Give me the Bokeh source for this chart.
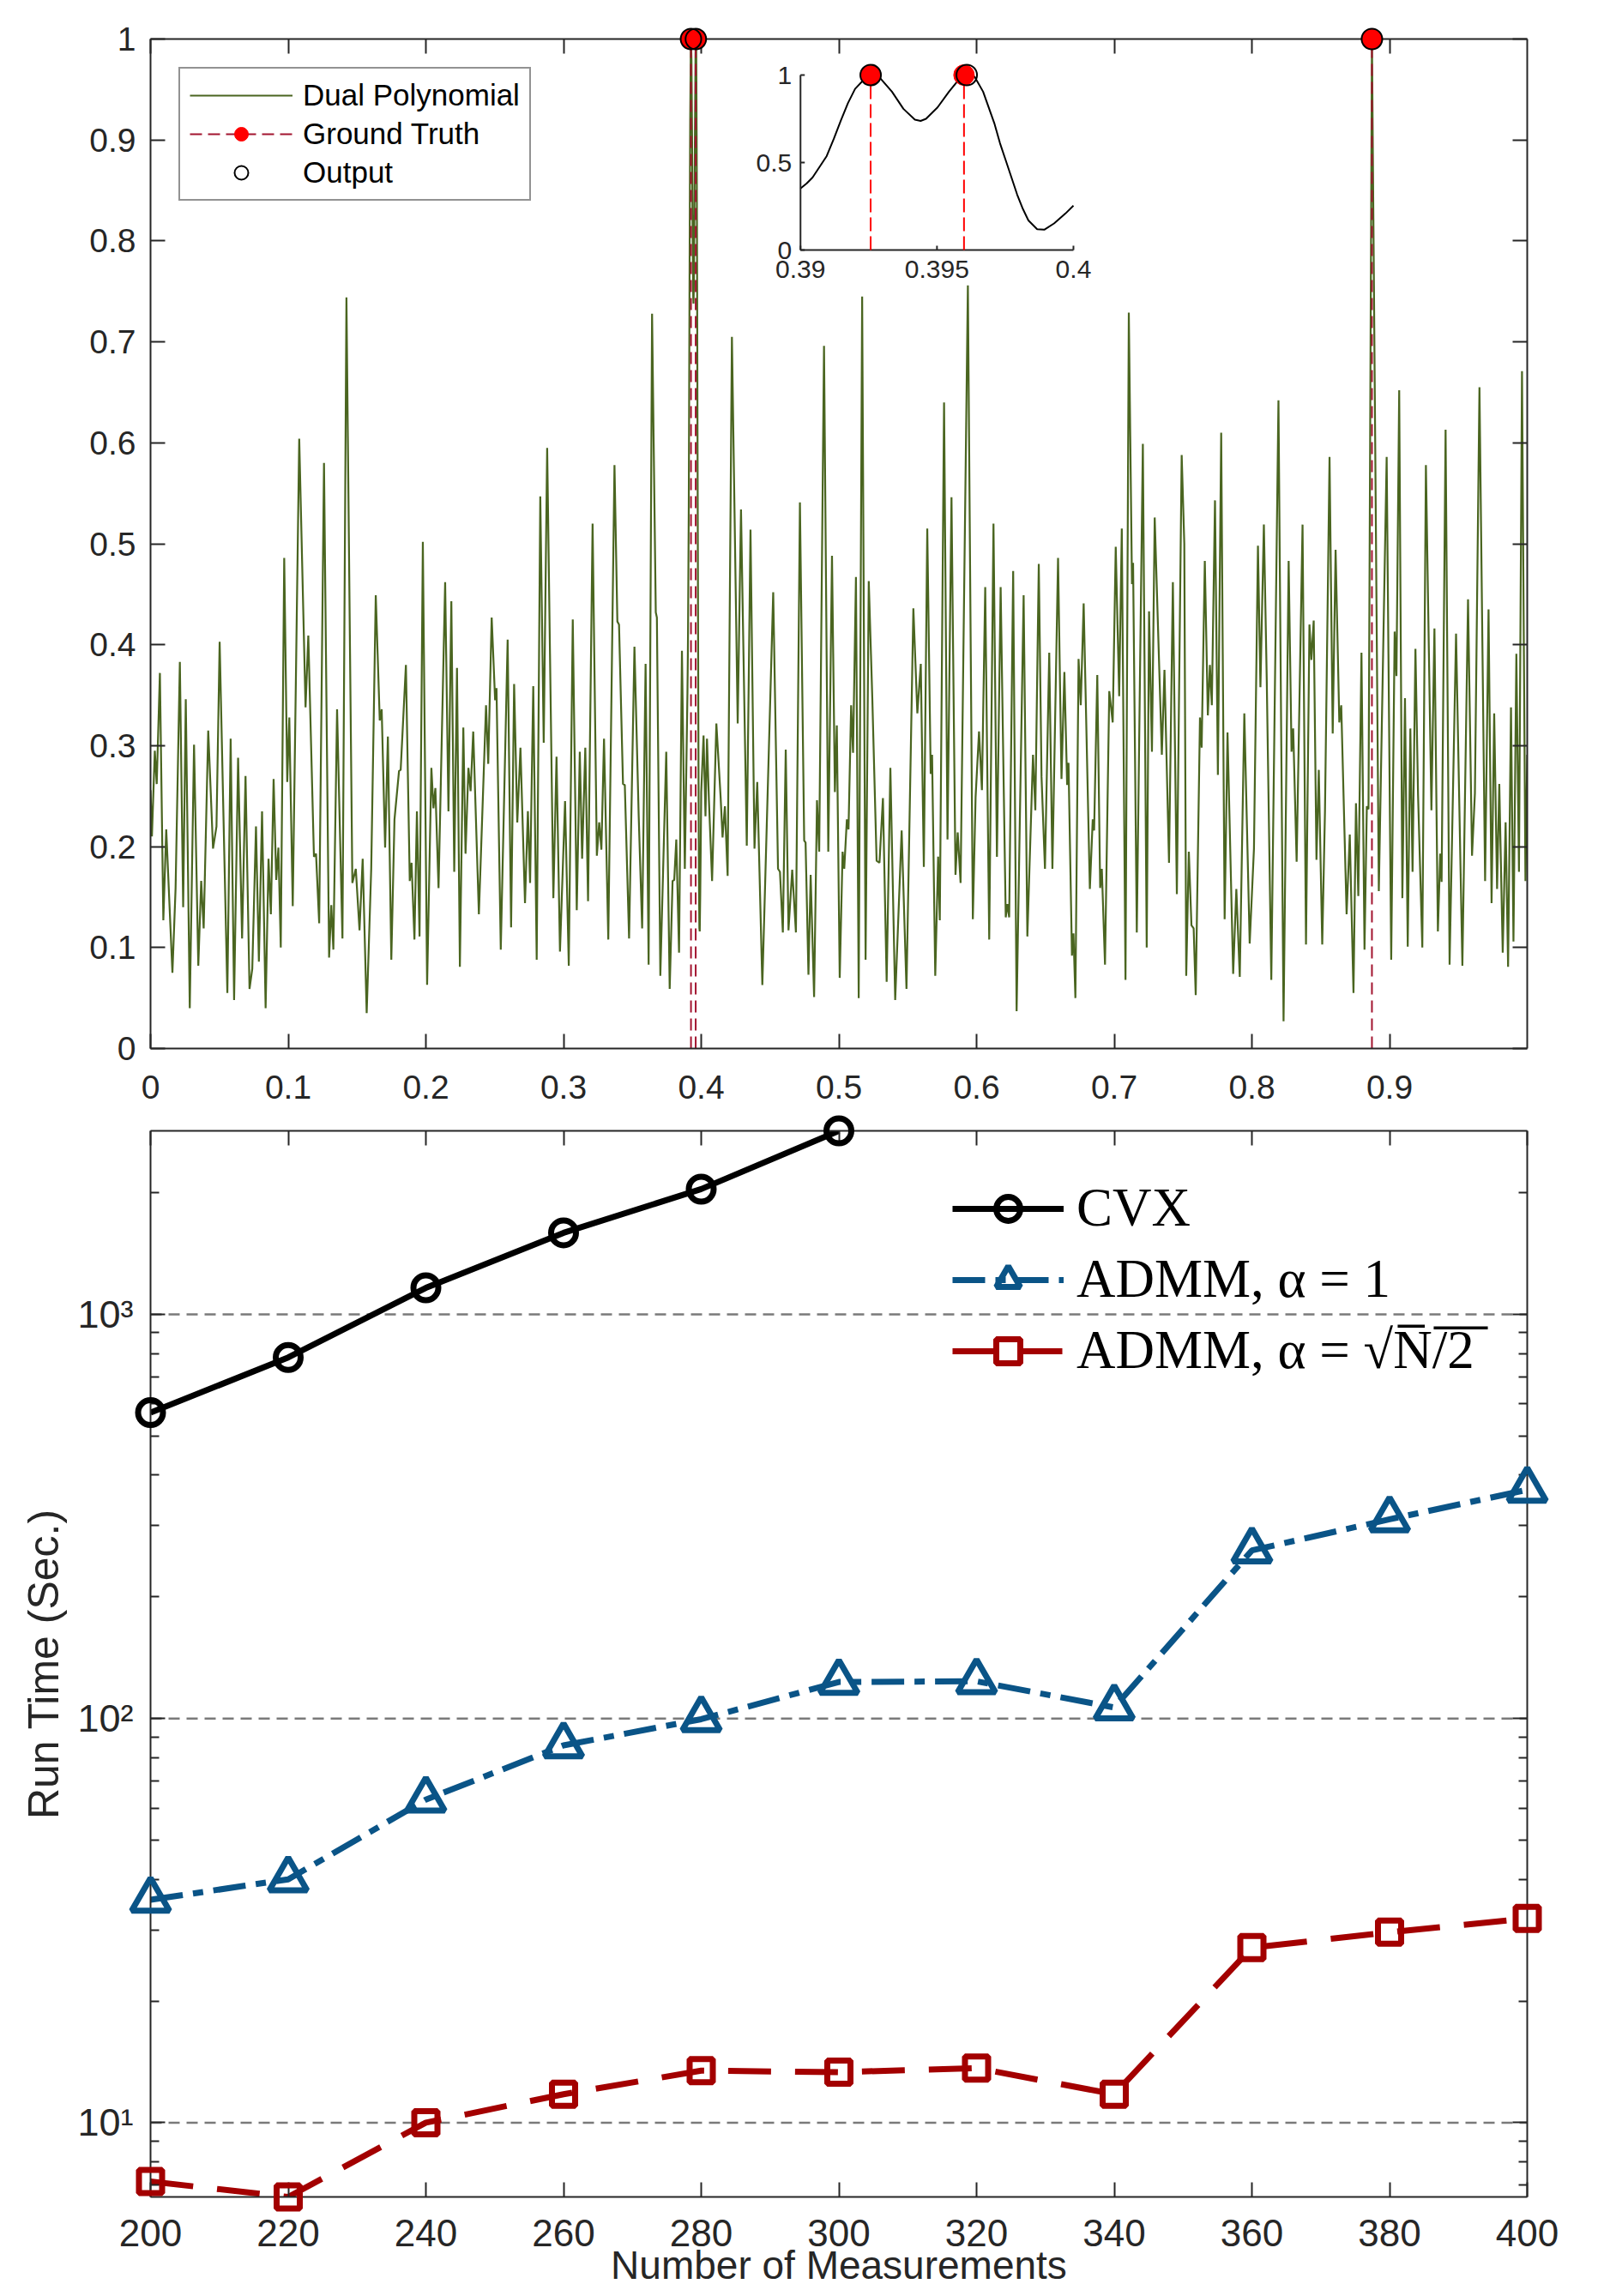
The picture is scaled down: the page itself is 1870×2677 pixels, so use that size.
import math
from bokeh.plotting import figure
from bokeh.layouts import column
from bokeh.models import (Range1d, LinearAxis, LogAxis, FixedTicker, Legend,
                          LegendItem, CustomJSTickFormatter)
from bokeh.core.properties import value
from bokeh.embed import file_html
from bokeh.resources import INLINE

# ----------------------------------------------------------------- top panel data
# dual polynomial |q(f)| (peaks / valleys), in four pieces
dual_seg1 = [(0.0000,0.256),(0.0010,0.210),(0.0031,0.295),(0.0045,0.262),(0.0068,0.372),(0.0093,0.127),
    (0.0114,0.217),(0.0159,0.075),(0.0182,0.159),(0.0213,0.383),(0.0237,0.140),(0.0256,0.346),(0.0285,0.040),
    (0.0316,0.301),(0.0347,0.082),(0.0368,0.166),(0.0386,0.119),(0.0419,0.315),(0.0454,0.198),(0.0479,0.220),
    (0.0502,0.403),(0.0558,0.055),(0.0582,0.307),(0.0607,0.048),(0.0636,0.288),(0.0665,0.109),(0.0690,0.270),
    (0.0719,0.059),(0.0739,0.079),(0.0766,0.220),(0.0787,0.086),(0.0810,0.235),(0.0836,0.040),(0.0857,0.188),
    (0.0874,0.133),(0.0894,0.267),(0.0913,0.167),(0.0929,0.199),(0.0946,0.100),(0.0971,0.486),(0.0993,0.264),
    (0.1008,0.328),(0.1033,0.141),(0.1080,0.604),(0.1126,0.338),(0.1146,0.409),(0.1187,0.190),(0.1202,0.193),
    (0.1225,0.124),(0.1260,0.580),(0.1297,0.090),(0.1313,0.142),(0.1328,0.098),(0.1355,0.336),(0.1394,0.109),
    (0.1423,0.744),(0.1466,0.164),(0.1491,0.178),(0.1518,0.117),(0.1541,0.188),(0.1570,0.035),(0.1603,0.178),
    (0.1636,0.449),(0.1665,0.325),(0.1679,0.336),(0.1704,0.199),(0.1724,0.309),(0.1749,0.088),(0.1772,0.227),
    (0.1805,0.275),(0.1817,0.276),(0.1855,0.380),(0.1883,0.166),(0.1896,0.184),(0.1917,0.108),(0.1935,0.235),
    (0.1954,0.111),(0.1978,0.502),(0.2009,0.063),(0.2040,0.278),(0.2055,0.238),(0.2069,0.258),(0.2092,0.159),
    (0.2140,0.462),(0.2164,0.235),(0.2185,0.443),(0.2206,0.175),(0.2226,0.377),(0.2247,0.081),(0.2272,0.318),
    (0.2288,0.193),(0.2309,0.278),(0.2325,0.255),(0.2344,0.314),(0.2385,0.133),(0.2437,0.340),(0.2453,0.282),
    (0.2478,0.427),(0.2503,0.345),(0.2513,0.357),(0.2544,0.098),(0.2594,0.405),(0.2619,0.120),(0.2641,0.361),
    (0.2664,0.224),(0.2687,0.298),(0.2720,0.144),(0.2741,0.235),(0.2757,0.164),(0.2780,0.359),(0.2805,0.088),
    (0.2831,0.547),(0.2856,0.303),(0.2881,0.595),(0.2926,0.149),(0.2949,0.289),(0.2974,0.096),(0.3011,0.245),
    (0.3038,0.082),(0.3067,0.425),(0.3096,0.137),(0.3118,0.294),(0.3135,0.188),(0.3158,0.298),(0.3178,0.146),
    (0.3211,0.520),(0.3242,0.191),(0.3259,0.224),(0.3275,0.197),(0.3294,0.307),(0.3325,0.108),(0.3370,0.578),
    (0.3391,0.423),(0.3403,0.420),(0.3432,0.262),(0.3445,0.261),(0.3476,0.109),(0.3515,0.398),(0.3546,0.230),
    (0.3571,0.119),(0.3596,0.381),(0.3618,0.083),(0.3643,0.728),(0.3670,0.432),(0.3678,0.427),(0.3703,0.072),
    (0.3746,0.294),(0.3771,0.059),(0.3792,0.166),(0.3804,0.167),(0.3819,0.207),(0.3839,0.095),(0.3860,0.394),
    (0.3881,0.178)]
# the zoomed region 0.39 - 0.40 (also shown in the inset)
zoom_seg = [(0.39000,0.352),(0.39023,0.381),(0.39044,0.414),(0.39096,0.537),(0.39122,0.635),(0.39148,0.741),
    (0.39174,0.840),(0.39200,0.921),(0.39242,0.990),(0.39257,1.000),(0.39294,0.979),(0.39335,0.905),
    (0.39377,0.807),(0.39419,0.745),(0.39440,0.738),(0.39460,0.750),(0.39502,0.815),(0.39544,0.905),
    (0.39585,0.984),(0.39606,1.000),(0.39638,0.990),(0.39669,0.905),(0.39710,0.725),(0.39731,0.610),
    (0.39752,0.512),(0.39773,0.414),(0.39794,0.316),(0.39815,0.234),(0.39835,0.169),(0.39867,0.119),
    (0.39893,0.116),(0.39929,0.152),(0.39971,0.209),(0.40000,0.254)]
dual_seg2 = [(0.4017,0.310),(0.4031,0.230),(0.4042,0.307),(0.4056,0.246),(0.4079,0.166),(0.4110,0.322),
    (0.4141,0.249),(0.4155,0.209),(0.4172,0.240),(0.4192,0.171),(0.4223,0.705),(0.4265,0.322),(0.4289,0.534),
    (0.4331,0.201),(0.4358,0.514),(0.4387,0.198),(0.4407,0.264),(0.4444,0.063),(0.4523,0.452),(0.4558,0.178),
    (0.4572,0.175),(0.4593,0.115),(0.4614,0.296),(0.4634,0.117),(0.4661,0.177),(0.4688,0.115),(0.4717,0.541),
    (0.4748,0.206),(0.4758,0.204),(0.4779,0.073),(0.4795,0.172),(0.4820,0.051),(0.4841,0.246),(0.4857,0.195),
    (0.4892,0.696),(0.4923,0.195),(0.4950,0.488),(0.4971,0.254),(0.4985,0.320),(0.5006,0.070),(0.5027,0.195),
    (0.5039,0.178),(0.5058,0.227),(0.5070,0.217),(0.5089,0.340),(0.5103,0.293),(0.5124,0.467),(0.5144,0.050),
    (0.5169,0.745),(0.5194,0.088),(0.5217,0.463),(0.5243,0.346),(0.5274,0.186),(0.5295,0.184),(0.5320,0.248),
    (0.5347,0.066),(0.5374,0.278),(0.5409,0.048),(0.5456,0.216),(0.5491,0.059),(0.5541,0.436),(0.5570,0.332),
    (0.5595,0.381),(0.5617,0.180),(0.5642,0.515),(0.5667,0.272),(0.5677,0.291),(0.5700,0.072),(0.5721,0.190),
    (0.5733,0.127),(0.5764,0.640),(0.5789,0.207),(0.5818,0.546),(0.5847,0.172),(0.5863,0.214),(0.5884,0.164),
    (0.5937,0.756),(0.5973,0.128),(0.5993,0.249),(0.6018,0.314),(0.6039,0.256),(0.6063,0.457),(0.6092,0.108),
    (0.6123,0.520),(0.6148,0.190),(0.6175,0.457),(0.6212,0.130),(0.6224,0.143),(0.6237,0.130),(0.6266,0.473),
    (0.6291,0.037),(0.6342,0.449),(0.6369,0.111),(0.6410,0.291),(0.6427,0.236),(0.6452,0.480),(0.6472,0.269),
    (0.6497,0.178),(0.6528,0.392),(0.6551,0.178),(0.6592,0.486),(0.6617,0.267),(0.6638,0.373),(0.6658,0.261),
    (0.6668,0.283),(0.6693,0.092),(0.6704,0.114),(0.6718,0.050),(0.6741,0.386),(0.6757,0.340),(0.6778,0.441),
    (0.6823,0.158),(0.6844,0.227),(0.6854,0.216),(0.6877,0.370),(0.6898,0.159),(0.6910,0.178),(0.6933,0.083),
    (0.6964,0.354),(0.6989,0.323),(0.7011,0.497),(0.7036,0.349),(0.7055,0.515),(0.7082,0.068),(0.7106,0.729),
    (0.7129,0.460),(0.7137,0.481),(0.7164,0.115),(0.7208,0.599),(0.7236,0.100),(0.7253,0.433),(0.7274,0.294),
    (0.7294,0.526),(0.7346,0.291),(0.7365,0.375),(0.7398,0.184),(0.7426,0.462),(0.7455,0.153),(0.7490,0.588),
    (0.7509,0.500)]
dual_seg3 = [(0.7523,0.072),(0.7542,0.195),(0.7561,0.122),(0.7577,0.119),(0.7592,0.053),(0.7623,0.328),
    (0.7635,0.298),(0.7658,0.483),(0.7680,0.330),(0.7695,0.380),(0.7709,0.340),(0.7732,0.543),(0.7753,0.271),
    (0.7777,0.610),(0.7802,0.128),(0.7823,0.313),(0.7864,0.074),(0.7887,0.158),(0.7912,0.071),(0.7945,0.332),
    (0.7984,0.104),(0.8015,0.198),(0.8044,0.498),(0.8062,0.358),(0.8087,0.519),(0.8108,0.365),(0.8141,0.068),
    (0.8193,0.642),(0.8230,0.027),(0.8267,0.483),(0.8288,0.294),(0.8300,0.317),(0.8325,0.185),(0.8368,0.519),
    (0.8393,0.103),(0.8418,0.420),(0.8432,0.385),(0.8449,0.424),(0.8469,0.187),(0.8486,0.276),(0.8511,0.103),
    (0.8531,0.236),(0.8564,0.586),(0.8587,0.312),(0.8608,0.494),(0.8635,0.323),(0.8649,0.340),(0.8688,0.133),
    (0.8711,0.212),(0.8738,0.055),(0.8756,0.243),(0.8773,0.151),(0.8796,0.392),(0.8818,0.098),(0.8835,0.240),
    (0.8847,0.237),(0.8872,1.000),(0.8922,0.156),(0.8979,0.586),(0.9012,0.088),(0.9037,0.413),(0.9050,0.369),
    (0.9070,0.652),(0.9093,0.149),(0.9112,0.347),(0.9132,0.101),(0.9151,0.317),(0.9167,0.175),(0.9188,0.396),
    (0.9207,0.251),(0.9238,0.100),(0.9264,0.578),(0.9304,0.236),(0.9326,0.416),(0.9351,0.116),(0.9368,0.193),
    (0.9378,0.165),(0.9407,0.613),(0.9436,0.083),(0.9483,0.411),(0.9529,0.082),(0.9570,0.445),(0.9599,0.191),
    (0.9620,0.253),(0.9653,0.655),(0.9694,0.166),(0.9719,0.435),(0.9741,0.144),(0.9760,0.332),(0.9781,0.158),
    (0.9797,0.262),(0.9822,0.095),(0.9843,0.224),(0.9861,0.081),(0.9882,0.338),(0.9900,0.106),(0.9921,0.391),
    (0.9940,0.175),(0.9962,0.671),(0.9987,0.166),(1.0000,0.291)]

truth_x = [0.39257, 0.39599, 0.8872]
truth_y = [1.0, 1.0, 1.0]
output_x = [0.39257, 0.39609, 0.8872]
output_y = [1.0, 1.0, 1.0]

top_xticks = [0, 0.1, 0.2, 0.3, 0.4, 0.5, 0.6, 0.7, 0.8, 0.9]
top_xlabels = ["0", "0.1", "0.2", "0.3", "0.4", "0.5", "0.6", "0.7", "0.8", "0.9"]
top_yticks = [0, 0.1, 0.2, 0.3, 0.4, 0.5, 0.6, 0.7, 0.8, 0.9, 1]
top_ylabels = ["0", "0.1", "0.2", "0.3", "0.4", "0.5", "0.6", "0.7", "0.8", "0.9", "1"]
inset_xlim = (0.39, 0.40)
inset_xticks = [0.39, 0.395, 0.40]
inset_xlabels = ["0.39", "0.395", "0.4"]
inset_yticks = [0, 0.5, 1]
inset_ylabels = ["0", "0.5", "1"]

# ----------------------------------------------------------------- bottom panel data
meas = [200, 220, 240, 260, 280, 300, 320, 340, 360, 380, 400]
cvx_n = [200, 220, 240, 260, 280, 300]
cvx_t = [571, 782, 1163, 1591, 2041, 2844]
admm1_t = [35.6, 40.0, 63.0, 85.8, 99.6, 123.1, 123.6, 106.5, 260.5, 311.0, 368.0]
admm2_t = [7.15, 6.55, 10.0, 11.76, 13.45, 13.33, 13.65, 11.76, 27.1, 29.6, 32.0]
decades = [10, 100, 1000]
decade_labels = ["10\u00b9", "10\u00b2", "10\u00b3"]
series_names = ["CVX", "ADMM, \u03b1 = 1", "ADMM, \u03b1 = \u221aN\u0305/\u03052\u0305"]

# ----------------------------------------------------------------- styles
AX = "#262626"
SANS = "Liberation Sans"
SERIF = "Liberation Serif"
GREEN = "#4a6520"
DARKRED = "#a2142f"
BLUE = "#0a5487"
RED = "#a30000"


def label_map(ticks, labels):
    d = {}
    for t, l in zip(ticks, labels):
        d[t] = l
        d[str(t)] = l
    return d


def style_axis(ax, ticker, labels=None, size="39px", tick_in=17, minor_in=0):
    ax.ticker = ticker
    ax.axis_line_color = AX
    ax.axis_line_width = 2
    ax.major_tick_line_color = AX
    ax.major_tick_line_width = 2
    ax.minor_tick_line_color = AX
    ax.minor_tick_line_width = 2
    ax.major_tick_in = tick_in
    ax.major_tick_out = 0
    ax.minor_tick_in = minor_in
    ax.minor_tick_out = 0
    if labels is None:
        ax.formatter = CustomJSTickFormatter(code="return ''")
        ax.major_label_text_font_size = "0px"
        ax.major_label_standoff = 0
    else:
        ax.major_label_overrides = label_map(ticker.ticks, labels)
        ax.major_label_text_font_size = size
    ax.major_label_text_font = SANS
    ax.major_label_text_color = AX


# ================================================================= top figure
F1_W, F1_H = 1854, 1300
F1_L, F1_T, F1_FW, F1_FH = 166, 45, 1614, 1177

p1 = figure(width=F1_W, height=F1_H, x_range=Range1d(0, 1), y_range=Range1d(0, 1),
            output_backend="svg", toolbar_location=None,
            min_border_left=F1_L, min_border_right=F1_W - F1_L - F1_FW,
            min_border_top=F1_T, min_border_bottom=F1_H - F1_T - F1_FH)
p1.grid.visible = False
p1.outline_line_color = None
p1.background_fill_color = "white"
p1.border_fill_color = "white"

xb = p1.xaxis[0]
style_axis(xb, FixedTicker(ticks=top_xticks), top_xlabels)
xb.major_label_standoff = 31
yl = p1.yaxis[0]
style_axis(yl, FixedTicker(ticks=top_yticks), top_ylabels)
yl.major_label_standoff = 17
xt = LinearAxis()
style_axis(xt, FixedTicker(ticks=top_xticks))
p1.add_layout(xt, "above")
yr = LinearAxis()
style_axis(yr, FixedTicker(ticks=top_yticks))
p1.add_layout(yr, "right")

dual_pts = dual_seg1 + zoom_seg + dual_seg2 + dual_seg3
dual_x = [p[0] for p in dual_pts]
dual_y = [p[1] for p in dual_pts]

line_r = p1.line(dual_x, dual_y, line_color=GREEN, line_width=2.2)
stem_r = p1.segment(x0=truth_x, y0=[0] * len(truth_x), x1=truth_x, y1=truth_y,
                    line_color=DARKRED, line_width=2, line_dash="14 7")
truth_r = p1.scatter(truth_x, truth_y, marker="circle", size=24, fill_color="#ff0000",
                     line_color="#ff0000", level="overlay")
out_r = p1.scatter(output_x, output_y, marker="circle", size=24, fill_color=None, line_color="black",
                   line_width=2, level="overlay")

# ---- inset (drawn through its own ranges that map 0.39-0.40 x 0-1 into a small box)
INS_L, INS_R, INS_T, INS_B = 762, 1082, 42, 246      # inset box inside the frame, px
ix0, ix1 = inset_xlim
sx = (ix1 - ix0) / (INS_R - INS_L)
sy = 1.0 / (INS_B - INS_T)
p1.extra_x_ranges = {"ix": Range1d(ix0 - INS_L * sx, ix1 + (F1_FW - INS_R) * sx)}
p1.extra_y_ranges = {"iy": Range1d(0 - (F1_FH - INS_B) * sy, 1 + INS_T * sy)}
kw = dict(x_range_name="ix", y_range_name="iy")

zoom_x = [p[0] for p in zoom_seg]
zoom_y = [p[1] for p in zoom_seg]
p1.line(zoom_x, zoom_y, line_color="black", line_width=2, **kw)
p1.segment(x0=[ix0, ix0], y0=[inset_yticks[0], inset_yticks[0]], x1=[ix0, ix1],
           y1=[inset_yticks[-1], inset_yticks[0]], line_color=AX, line_width=2, **kw)
p1.segment(x0=[ix0] * len(inset_yticks), y0=inset_yticks, x1=[ix0 + 5 * sx] * len(inset_yticks),
           y1=inset_yticks, line_color=AX, line_width=2, **kw)
p1.segment(x0=inset_xticks, y0=[0] * len(inset_xticks), x1=inset_xticks,
           y1=[5 * sy] * len(inset_xticks), line_color=AX, line_width=2, **kw)
p1.text(x=[ix0] * len(inset_yticks), y=inset_yticks, text=inset_ylabels, text_align="right",
        text_baseline="middle", x_offset=-10, text_font=value(SANS), text_font_size="30px",
        text_color=AX, **kw)
p1.text(x=inset_xticks, y=[0] * len(inset_xticks), text=inset_xlabels, text_align="center",
        text_baseline="top", y_offset=12, text_font=value(SANS), text_font_size="30px",
        text_color=AX, **kw)
zt = [t for t in truth_x if ix0 <= t <= ix1]
zo = [t for t in output_x if ix0 <= t <= ix1]
p1.segment(x0=zt, y0=[0] * len(zt), x1=zt, y1=[1] * len(zt), line_color="#ff0000", line_width=2,
           line_dash="16 6", **kw)
p1.scatter(zt, [1] * len(zt), marker="circle", size=24, fill_color="#ff0000", line_color="#ff0000", **kw)
p1.scatter(zo, [1] * len(zo), marker="circle", size=24, fill_color=None, line_color="black",
           line_width=2, **kw)

leg1 = Legend(items=[LegendItem(label="Dual Polynomial", renderers=[line_r]),
                     LegendItem(label="Ground Truth", renderers=[stem_r, truth_r]),
                     LegendItem(label="Output", renderers=[out_r])],
              location="top_left", margin=33, border_line_color=AX, border_line_width=2,
              background_fill_color="white", background_fill_alpha=1.0,
              label_text_font=SANS, label_text_font_size="35px", label_text_color="black",
              glyph_width=120, glyph_height=40, label_height=40, spacing=5, padding=11,
              label_standoff=12)
p1.add_layout(leg1)

# ================================================================= bottom figure
F2_W, F2_H = 1854, 1369
F2_L, F2_T, F2_FW, F2_FH = 175, 18, 1650, 1249

ymin = min(min(cvx_t), min(admm1_t), min(admm2_t))
ymax = max(max(cvx_t), max(admm1_t), max(admm2_t))
xmin, xmax = meas[0], meas[-1]

p2 = figure(width=F2_W, height=F2_H, y_axis_type="log",
            x_range=Range1d(xmin, xmax), y_range=Range1d(ymin, ymax),
            output_backend="svg", toolbar_location=None,
            min_border_left=F2_L, min_border_right=F2_W - F2_L - F2_FW,
            min_border_top=F2_T, min_border_bottom=F2_H - F2_T - F2_FH)
p2.grid.visible = False
p2.outline_line_color = None
p2.background_fill_color = "white"
p2.border_fill_color = "white"

minors = [m * 10 ** e for e in range(0, 4) for m in range(2, 10) if ymin <= m * 10 ** e <= ymax]
xb2 = p2.xaxis[0]
style_axis(xb2, FixedTicker(ticks=meas), [str(v) for v in meas], size="44px")
xb2.major_label_standoff = 26
xb2.axis_label = "Number of Measurements"
xb2.axis_label_text_font = SANS
xb2.axis_label_text_font_size = "46px"
xb2.axis_label_text_font_style = "normal"
xb2.axis_label_text_color = AX
xb2.axis_label_standoff = -7

yl2 = p2.yaxis[0]
style_axis(yl2, FixedTicker(ticks=decades, minor_ticks=minors), decade_labels, size="45px", minor_in=10)
yl2.major_label_standoff = 20
yl2.axis_label = "Run Time (Sec.)"
yl2.axis_label_text_font = SANS
yl2.axis_label_text_font_size = "50px"
yl2.axis_label_text_font_style = "normal"
yl2.axis_label_text_color = AX
yl2.axis_label_standoff = 8

xt2 = LinearAxis()
style_axis(xt2, FixedTicker(ticks=meas))
p2.add_layout(xt2, "above")
yr2 = LogAxis()
style_axis(yr2, FixedTicker(ticks=decades, minor_ticks=minors), minor_in=10)
p2.add_layout(yr2, "right")

# dashed horizontal grid at the decades
p2.segment(x0=[xmin] * len(decades), y0=decades, x1=[xmax] * len(decades), y1=decades,
           line_color="#7a7a7a", line_width=2.5, line_dash="13 8")

c_line = p2.line(cvx_n, cvx_t, line_color="black", line_width=7)
c_mark = p2.scatter(cvx_n, cvx_t, marker="circle", size=29, fill_color=None, line_color="black",
                    line_width=7, level="overlay")
a_line = p2.line(meas, admm1_t, line_color=BLUE, line_width=7, line_dash="38 12 12 12")
a_mark = p2.scatter(meas, admm1_t, marker="triangle", size=44, fill_color=None, line_color=BLUE,
                    line_width=7, level="overlay")
s_line = p2.line(meas, admm2_t, line_color=RED, line_width=7, line_dash="50 28")
s_mark = p2.scatter(meas, admm2_t, marker="square", size=27, fill_color=None, line_color=RED,
                    line_width=7, level="overlay")

leg2 = Legend(items=[LegendItem(label=series_names[0], renderers=[c_line, c_mark]),
                     LegendItem(label=series_names[1], renderers=[a_line, a_mark]),
                     LegendItem(label=series_names[2], renderers=[s_line, s_mark])],
              location=(935, 950), border_line_color=None, background_fill_alpha=0,
              label_text_font=SERIF, label_text_font_size="63px", label_text_color="black",
              glyph_width=130, glyph_height=70, label_height=70, spacing=10, padding=0,
              label_standoff=15)
p2.add_layout(leg2)

layout = column(p1, p2)
open("out.html", "w").write(file_html(layout, INLINE))
